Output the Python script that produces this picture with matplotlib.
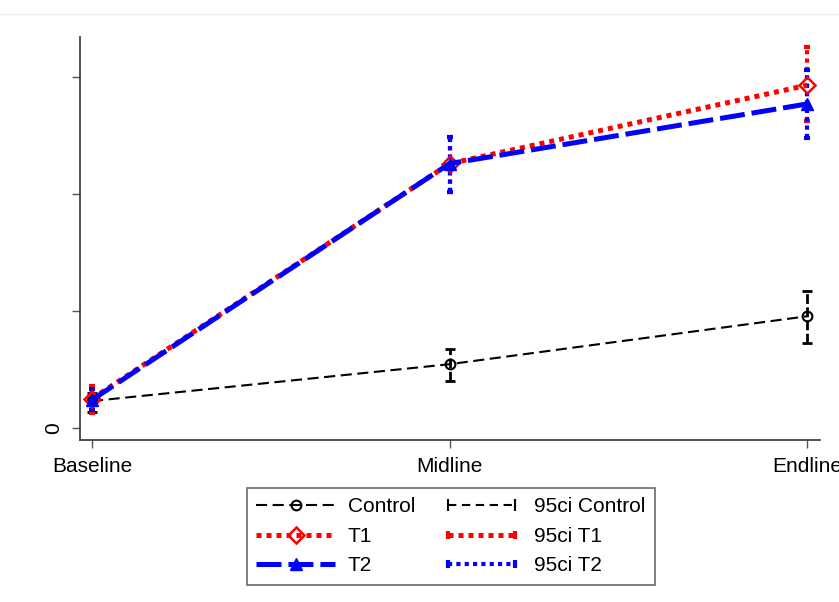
import matplotlib
matplotlib.use("Agg")
import matplotlib.pyplot as plt
from matplotlib.lines import Line2D
from matplotlib.legend_handler import HandlerLine2D

plt.rcParams["font.family"] = ["Liberation Sans", "DejaVu Sans"]
plt.rcParams["lines.scale_dashes"] = False

# ── data (y in tick units) ──
rounds = ["Baseline", "Midline", "Endline"]
x = [0, 1, 2]

control = [0.23, 0.545, 0.955]
control_lo = [0.14, 0.40, 0.725]
control_hi = [0.30, 0.675, 1.17]

t1 = [0.25, 2.26, 2.93]
t1_lo = [0.13, 2.02, 2.62]
t1_hi = [0.36, 2.49, 3.26]

t2 = [0.24, 2.26, 2.77]
t2_lo = [0.15, 2.02, 2.48]
t2_hi = [0.33, 2.49, 3.06]

ytick_vals = [0, 1, 2, 3]
ytick_labels = ["0", "", "", ""]

fig = plt.figure(figsize=(8.39, 6.02), dpi=100)
ax = fig.add_axes([0.0954, 0.2691, 0.882, 0.6694])

# faint rule near the top of the canvas
fig.add_artist(Line2D([0, 1], [0.977, 0.977], transform=fig.transFigure,
                      color="#eef3f5", linewidth=1))


def ci(lo, hi, color, lw, dashes, capsize):
    mid = [(a + b) / 2 for a, b in zip(lo, hi)]
    err = [[m - a for m, a in zip(mid, lo)], [b - m for m, b in zip(mid, hi)]]
    eb = ax.errorbar(x, mid, yerr=err, fmt="none", ecolor=color, elinewidth=lw,
                     capsize=capsize, capthick=lw, zorder=2)
    for lc in eb[2]:
        lc.set_linestyle((0, dashes))
    return eb


ci(control_lo, control_hi, "black", 2.0, (7, 2.5), 3.5)
ci(t1_lo, t1_hi, "red", 3.0, (3, 3), 2)
ci(t2_lo, t2_hi, "blue", 3.0, (3, 3), 2)

l_c, = ax.plot(x, control, color="black", lw=1.5, dashes=(8, 4),
               marker="o", markersize=7, markerfacecolor="none",
               markeredgecolor="black", markeredgewidth=1.5, zorder=3)
l_t1, = ax.plot(x, t1, color="red", lw=3.6, dashes=(3.6, 3.6),
                marker="D", markersize=8, markerfacecolor="none",
                markeredgecolor="red", markeredgewidth=1.8, zorder=4)
l_t2, = ax.plot(x, t2, color="blue", lw=3.6, dashes=(18, 5),
                marker="^", markersize=9, markerfacecolor="blue",
                markeredgecolor="blue", zorder=5)

ax.set_xlim(-0.0335, 2.036)
ax.set_ylim(-0.103, 3.342)
ax.set_xticks(x)
ax.set_xticklabels(rounds, fontsize=15)
ax.set_yticks(ytick_vals)
ax.set_yticklabels(ytick_labels, fontsize=15, rotation=90, va="center")
ax.tick_params(axis="both", length=6, width=1, color="#555555", pad=6)

for side in ["top", "right"]:
    ax.spines[side].set_visible(False)
for side in ["left", "bottom"]:
    ax.spines[side].set_color("#333333")
    ax.spines[side].set_linewidth(1.2)

# ── legend ──
h_ci_c = Line2D([], [], color="black", lw=1.5, dashes=(6, 4), marker="|",
                markersize=8, markeredgewidth=1.5)
h_ci_t1 = Line2D([], [], color="red", lw=3.6, dashes=(3.6, 3.6), marker="|",
                 markersize=6, markeredgewidth=3)
h_ci_t2 = Line2D([], [], color="blue", lw=3.0, dashes=(3, 3), marker="|",
                 markersize=6, markeredgewidth=3)

handles = [l_c, l_t1, l_t2, h_ci_c, h_ci_t1, h_ci_t2]
labels = ["Control", "T1", "T2", "95ci Control", "95ci T1", "95ci T2"]
hm = {h: HandlerLine2D(numpoints=2) for h in (h_ci_c, h_ci_t1, h_ci_t2)}
hm.update({h: HandlerLine2D(numpoints=1) for h in (l_c, l_t1, l_t2)})

leg = fig.legend(handles, labels, loc="center", bbox_to_anchor=(0.537, 0.109),
                 ncol=2, fontsize=15, handlelength=3.8, handletextpad=0.6,
                 columnspacing=1.3, labelspacing=0.5, borderpad=0.45,
                 fancybox=False, frameon=True, handler_map=hm)
leg.get_frame().set_edgecolor("#444444")
leg.get_frame().set_linewidth(1.2)

fig.savefig("out.png", dpi=100)
